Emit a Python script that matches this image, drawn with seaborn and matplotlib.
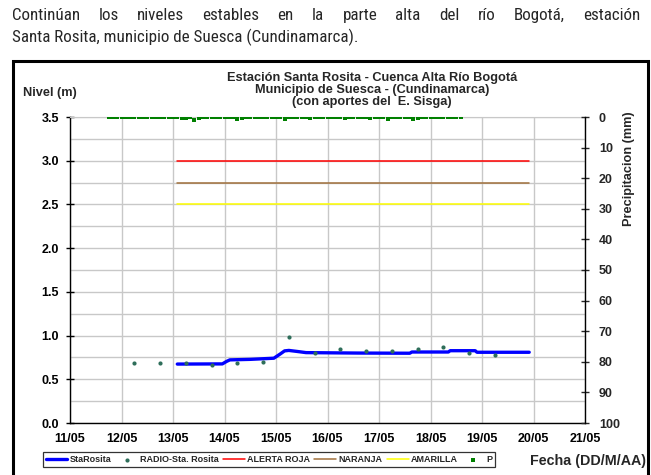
import numpy as np
import pandas as pd
import seaborn as sns
import matplotlib.pyplot as plt
import matplotlib.dates as mdates
from matplotlib.ticker import MultipleLocator
from matplotlib.patches import Rectangle
from matplotlib import font_manager
from matplotlib.font_manager import FontProperties

# Nivel del río, estación Santa Rosita (m)
t_nivel = ["2011-05-13 02:00", "2011-05-13 23:00", "2011-05-14 01:00", "2011-05-14 02:30",
           "2011-05-14 12:00", "2011-05-14 23:00", "2011-05-15 02:00", "2011-05-15 04:00",
           "2011-05-15 06:00", "2011-05-15 10:00", "2011-05-15 14:00", "2011-05-16 14:00",
           "2011-05-17 14:20", "2011-05-17 15:20", "2011-05-18 08:20", "2011-05-18 09:10",
           "2011-05-18 20:50", "2011-05-18 21:40", "2011-05-19 22:00"]
nivel = [0.674, 0.676, 0.705, 0.722, 0.728, 0.741, 0.79, 0.825, 0.83, 0.818, 0.805, 0.80,
         0.798, 0.812, 0.812, 0.827, 0.827, 0.809, 0.809]

# Lecturas RADIO-Sta. Rosita (06:00 y 18:00)
radio_inicio = "2011-05-12 06:00"
radio = [0.685, 0.685, 0.685, 0.662, 0.685, 0.70, 0.978, 0.805, 0.843, 0.82,
         0.82, 0.843, 0.866, 0.805, 0.775]

# Umbrales de alerta (m)
t_umbral = ["2011-05-13 02:00", "2011-05-19 22:00"]
alerta_roja = [3.0, 3.0]
naranja = [2.75, 2.75]
amarilla = [2.5, 2.5]

# Precipitación cada 2 horas desde el 11/05 18:00 (mm)
p_inicio = "2011-05-11 18:00"
precip = [0, 0, 0, 0, 0, 0, 0, 0, 0, 0, 0, 0,
          0, 0, 0, 0, 0, 0.4, 0.3, 0, 1.0, 0.4, 0, 0,
          0, 0, 0, 0, 0, 0, 0.5, 0.3, 0, 0, 0, 0,
          0, 0, 0, 0, 0, 0.6, 0, 0, 0, 0, 0, 0.3,
          0, 0, 0, 0, 0, 0, 0, 0.3, 0, 0, 0, 0,
          0, 0.4, 0, 0, 0, 0.6, 0, 0, 0, 0, 0, 0.5,
          0.3, 0, 0, 0, 0, 0, 0, 0, 0, 0, 0]

texto_1 = "Continúan los niveles estables en la parte alta del río Bogotá, estación"
texto_2 = "Santa Rosita, municipio de Suesca (Cundinamarca)."
titulo = ("Estación Santa Rosita - Cuenca Alta Río Bogotá\n"
          "Municipio de Suesca - (Cundinamarca)\n"
          "(con aportes del  E. Sisga)")

sns.set_style("white")
plt.rcParams['font.family'] = ['Liberation Sans', 'DejaVu Sans']
plt.rcParams['font.weight'] = 'bold'


def peso_num(w):
    return w if isinstance(w, (int, float)) else font_manager.weight_dict.get(w, 400)


def fuente_estrecha(negrita):
    # busca una sans estrecha (tipo Arial Narrow) entre las instaladas
    pref = ['Liberation Sans Narrow', 'Arial Narrow', 'Roboto Condensed', 'Noto Sans Condensed',
            'Open Sans Condensed', 'DejaVu Sans Condensed']
    cand = [f for f in font_manager.fontManager.ttflist
            if (f.stretch == 'condensed' or 'Narrow' in f.name or 'Condensed' in f.name)
            and f.style == 'normal'
            and not any(k in f.name for k in ['Extra', 'Semi', 'Mono', 'Serif', 'Display', 'CJK'])
            and (peso_num(f.weight) >= 600) == negrita
            and abs(peso_num(f.weight) - (700 if negrita else 400)) <= 100]
    cand.sort(key=lambda f: pref.index(f.name) if f.name in pref else len(pref))
    if cand:
        return FontProperties(fname=cand[0].fname)
    return FontProperties(family='Liberation Sans', weight='bold' if negrita else 'normal')


fp_reg = fuente_estrecha(False)

W, H = 651, 475
fig = plt.figure(figsize=(W / 100, H / 100), dpi=100)
ax = fig.add_axes([70 / W, 1 - 423 / H, (585 - 70) / W, (423 - 117) / H])
ax2 = ax.twinx()

x_nivel = pd.to_datetime(t_nivel)
x_radio = pd.date_range(radio_inicio, periods=len(radio), freq="12h")
x_umbral = pd.to_datetime(t_umbral)
x_precip = pd.date_range(p_inicio, periods=len(precip), freq="2h")

sns.lineplot(x=x_nivel, y=nivel, ax=ax, color="#0000FF", lw=2.4, label="StaRosita", legend=False, zorder=4)
sns.scatterplot(x=x_radio, y=radio, ax=ax, color="#2E6E5A", s=9, linewidth=0,
                label="RADIO-Sta. Rosita", legend=False, zorder=5)
sns.lineplot(x=x_umbral, y=alerta_roja, ax=ax, color="#FF0000", lw=1.1, label="ALERTA ROJA", legend=False)
sns.lineplot(x=x_umbral, y=naranja, ax=ax, color="#A0703C", lw=1.1, label="NARANJA", legend=False)
sns.lineplot(x=x_umbral, y=amarilla, ax=ax, color="#FFFF00", lw=1.1, label="AMARILLA", legend=False)
sns.scatterplot(x=x_precip, y=precip, ax=ax2, color="#008000", s=10, marker="s", linewidth=0,
                label="P", legend=False)

# eje izquierdo
ax.set_xlim(pd.Timestamp("2011-05-11"), pd.Timestamp("2011-05-21"))
ax.set_ylim(0, 3.5)
ax.yaxis.set_major_locator(MultipleLocator(0.5))
ax.yaxis.set_minor_locator(MultipleLocator(0.25))
ax.yaxis.set_major_formatter(plt.FormatStrFormatter("%.1f"))
ax.xaxis.set_major_locator(mdates.DayLocator())
ax.xaxis.set_major_formatter(mdates.DateFormatter("%d/%m"))
ax.grid(True, which="both", axis="y", color="#C8C8C8", lw=1.0)
ax.grid(True, which="major", axis="x", color="#C8C8C8", lw=1.0)
ax.set_axisbelow(True)
ax.tick_params(axis="both", which="major", direction="inout", length=6, width=1,
               colors="black", labelsize=9)
ax.tick_params(axis="y", pad=5)
ax.tick_params(axis="x", pad=4)
ax.tick_params(which="minor", length=0)
ax.set_xlabel("")
ax.set_ylabel("")
for s in ["left", "bottom"]:
    ax.spines[s].set_color("black")
    ax.spines[s].set_linewidth(1)
ax.spines["top"].set_color("#C8C8C8")
ax.spines["right"].set_visible(False)

# eje derecho (precipitación invertida)
ax2.set_ylim(100, 0)
ax2.yaxis.set_major_locator(MultipleLocator(10))
ax2.tick_params(axis="y", direction="inout", length=6, width=1, labelsize=9, pad=7)
ax2.set_ylabel("")
for s in ["left", "bottom", "top"]:
    ax2.spines[s].set_visible(False)
ax2.spines["right"].set_color("black")
ax2.spines["right"].set_linewidth(1)

# leyenda
h1, l1 = ax.get_legend_handles_labels()
h2, l2 = ax2.get_legend_handles_labels()
leg = fig.legend(h1 + h2, l1 + l2, loc="lower left", bbox_to_anchor=(38 / W, 1 - 472 / H),
                 ncol=6, fontsize=6.5, frameon=True, fancybox=False, edgecolor="black",
                 handlelength=2.4, handletextpad=0.25, columnspacing=0.5, borderpad=0.35,
                 scatterpoints=1)
leg.get_frame().set_linewidth(0.9)

# textos del gráfico
fig.text(372 / W, 1 - 90 / H, titulo, ha="center", va="center", fontsize=9.2, linespacing=1.05)
fig.text(23 / W, 1 - 93 / H, "Nivel (m)", ha="left", va="center", fontsize=9.2)
fig.text(629 / W, 1 - 169 / H, "Precipitacion (mm)", rotation=90, ha="center", va="center", fontsize=9.2)
fig.text(646 / W, 1 - 461 / H, "Fecha (DD/M/AA)", ha="right", va="center", fontsize=10.3)

# marco del gráfico
fig.add_artist(Rectangle((13 / W, -0.02), (648 - 13) / W, 1.02 - 61 / H, transform=fig.transFigure,
                         fill=False, edgecolor="black", lw=2.2, clip_on=False))

# párrafo superior (justificado)
renderer = fig.canvas.get_renderer()
fp_par = fp_reg.copy()
fp_par.set_size(12)
t2 = fig.text(12 / W, 1 - 42 / H, texto_2, fontproperties=fp_par, va="baseline")
fs = 12 * 345 / t2.get_window_extent(renderer).width
fp_par.set_size(fs)
t2.set_fontproperties(fp_par)
palabras = [fig.text(0, 1 - 20 / H, p, fontproperties=fp_par, va="baseline") for p in texto_1.split()]
anchos = [p.get_window_extent(renderer).width for p in palabras]
hueco = (640 - 12 - sum(anchos)) / (len(palabras) - 1)
x = 12
for p, a in zip(palabras, anchos):
    p.set_x(x / W)
    x += a + hueco

fig.savefig("out.png", dpi=100)
